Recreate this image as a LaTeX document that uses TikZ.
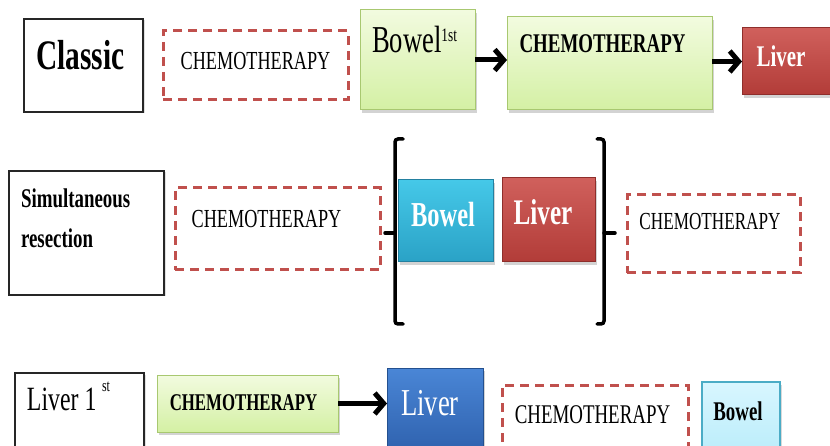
\documentclass[tikz,border=0pt]{standalone}
\usepackage{fontspec}
\setmainfont{Liberation Serif}[FakeStretch=0.7]
\usetikzlibrary{arrows.meta,shadows}
\definecolor{dred}{HTML}{C0504D}
\definecolor{gbord}{HTML}{A8C870}
\definecolor{gtop}{HTML}{F2FBDF}
\definecolor{gbot}{HTML}{D4F0A4}
\definecolor{rtop}{HTML}{D0605C}
\definecolor{rbot}{HTML}{B23C38}
\definecolor{rbord}{HTML}{8E2E2B}
\definecolor{ctop}{HTML}{45C8E8}
\definecolor{cbot}{HTML}{2AA2C6}
\definecolor{cbord}{HTML}{2380A0}
\definecolor{btop}{HTML}{4A86D6}
\definecolor{bbot}{HTML}{2C5EAA}
\definecolor{bbord}{HTML}{23508F}
\definecolor{lctop}{HTML}{D8F6FF}
\definecolor{lcbot}{HTML}{B8ECFA}
\definecolor{lcbord}{HTML}{4BACC6}
\newcommand\fs[1]{\fontsize{#1}{#1}\selectfont}
\newcommand\bx[6]{\node[#6, minimum width={(#4-#2)*1pt}, minimum height={(#5-#3)*1pt}] (#1) at ({(#2+#4)/2},{(#3+#5)/2}) {};}
\tikzset{
  base/.style={rectangle, inner sep=0pt, outer sep=0pt},
  plainbox/.style={base, draw=black!85, line width=1.2pt, fill=white, drop shadow={opacity=0.25, shadow xshift=1.5pt, shadow yshift=-1.5pt}},
  dashbox/.style={base, draw=dred, line width=3pt, dash pattern=on 9pt off 6pt},
  greenbox/.style={base, draw=gbord, line width=1pt, top color=gtop, bottom color=gbot, drop shadow={opacity=0.35, shadow xshift=1.5pt, shadow yshift=-3pt}},
  redbox/.style={base, draw=rbord, line width=1pt, top color=rtop, bottom color=rbot, drop shadow={opacity=0.35, shadow xshift=1.5pt, shadow yshift=-3pt}},
  cyanbox/.style={base, draw=cbord, line width=1pt, top color=ctop, bottom color=cbot, drop shadow={opacity=0.35, shadow xshift=1.5pt, shadow yshift=-3pt}},
  bluebox/.style={base, draw=bbord, line width=1pt, top color=btop, bottom color=bbot, drop shadow={opacity=0.35, shadow xshift=1.5pt, shadow yshift=-3pt}},
  lcyanbox/.style={base, draw=lcbord, line width=1.2pt, top color=lctop, bottom color=lcbot, drop shadow={opacity=0.3, shadow xshift=1.5pt, shadow yshift=-3pt}},
  txt/.style={inner sep=0pt, outer sep=0pt, anchor=base},
  txtw/.style={inner sep=0pt, outer sep=0pt, anchor=base west},
  flow/.style={line width=5pt, -{Straight Barb[length=9pt, width=21pt]}},
  brk/.style={line width=3.5pt, rounded corners=3pt, line cap=round}
}
\begin{document}
\begin{tikzpicture}[x=1pt, y=-1pt]
\useasboundingbox (0,0) rectangle (830,446);
% Row 1
\bx{classic}{24}{19}{143}{112}{plainbox}
\node[txt, font=\fs{42}\bfseries] (tclassic) at (80.5,70) {Classic};
\bx{chemoA}{163}{31}{348}{100}{dashbox}
\node[txt, font=\fs{26}] (tchemoA) at (255.5,70) {CHEMOTHERAPY};
\bx{bowelA}{360}{10}{475}{110}{greenbox}
\node[txtw, font=\fs{38}] (tbowelA) at (372,53) {Bowel\raisebox{11pt}{\fs{19}1st}};
\bx{chemoB}{507}{17}{712}{110}{greenbox}
\node[txt, font=\fs{27}\bfseries] (tchemoB) at (602.5,53) {CHEMOTHERAPY};
\bx{liverA}{742}{28}{840}{95}{redbox}
\node[txt, font=\fs{30}\bfseries, text=white] (tliverA) at (781,67) {Liver};
\draw[flow] (bowelA.east) -- (bowelA.east -| chemoB.west);
\draw[flow] (liverA.west -| chemoB.east) -- (liverA.west);
% Row 2
\bx{simul}{9}{171}{164}{295}{plainbox}
\node[txtw, font=\fs{27}\bfseries] (tsimulA) at (21,208) {Simultaneous};
\node[txtw, font=\fs{27}\bfseries] (tsimulB) at (21,248) {resection};
\bx{chemoC}{175}{188}{380}{270}{dashbox}
\node[txt, font=\fs{26}] (tchemoC) at (266.5,228) {CHEMOTHERAPY};
\bx{bowelB}{398}{180}{493}{262}{cyanbox}
\node[txt, font=\fs{35}\bfseries, text=white] (tbowelB) at (443,227) {Bowel};
\bx{liverB}{502}{178}{595}{262}{redbox}
\node[txt, font=\fs{36}\bfseries, text=white] (tliverB) at (543,225) {Liver};
\bx{chemoD}{627}{195}{800}{273}{dashbox}
\node[txt, font=\fs{24.5}] (tchemoD) at (710,230) {CHEMOTHERAPY};
% brackets
\draw[brk] (403,139) -- (395,139) -- (395,324) -- (403,324);
\draw[brk] (395,233) -- (385,233);
\draw[brk] (597,139) -- (604,139) -- (604,324) -- (597,324);
\draw[brk] (604,233) -- (615,233);
% Row 3
\bx{liverfirst}{15}{373}{144}{460}{plainbox}
\node[txtw, font=\fs{34}] (tliverfirst) at (27,410) {Liver 1\,\raisebox{19pt}{\fs{17}st}};
\bx{chemoE}{157}{375}{338}{432}{greenbox}
\node[txt, font=\fs{24}\bfseries] (tchemoE) at (243.5,410) {CHEMOTHERAPY};
\bx{liverC}{387}{368}{483}{460}{bluebox}
\node[txt, font=\fs{38}, text=white] (tliverC) at (430,415) {Liver};
\bx{chemoF}{502}{385}{688}{460}{dashbox}
\node[txt, font=\fs{27}] (tchemoF) at (592.5,423) {CHEMOTHERAPY};
\bx{bowelC}{702}{382}{780}{460}{lcyanbox}
\node[txt, font=\fs{27}\bfseries] (tbowelC) at (738,420) {Bowel};
\draw[flow] (chemoE.east) -- (chemoE.east -| liverC.west);
\end{tikzpicture}
\end{document}
